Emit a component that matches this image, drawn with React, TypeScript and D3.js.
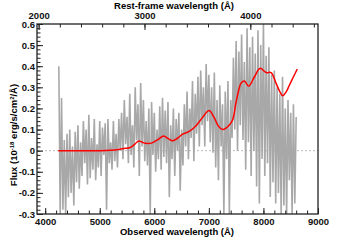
import React, { useEffect, useRef } from 'react';
import * as d3 from 'd3';

// observed-frame spectrum, 25 Å steps from 4250 Å
const specStart = 4250;
const specStep = 25;
const specFlux = [
  0.40, -0.30, 0.25, -0.28, 0.05, -0.30, 0.08, -0.22,
  0.10, -0.20, 0.02, -0.26, 0.09, -0.15, 0.12, -0.18,
  0.04, -0.12, 0.14, -0.06, 0.10, -0.16, 0.17, -0.13,
  0.06, -0.09, 0.15, -0.14, 0.03, -0.08, 0.14, -0.12,
  0.11, -0.02, 0.13, -0.28, 0.15, -0.06, 0.04, -0.09,
  0.14, -0.05, 0.08, -0.08, 0.15, 0.00, 0.18, -0.04,
  0.24, 0.03, 0.16, -0.06, 0.27, -0.02, 0.12, -0.08,
  0.30, 0.05, 0.22, -0.12, 0.32, 0.02, 0.24, -0.05,
  0.14, -0.07, 0.20, -0.30, 0.23, -0.02, 0.18, -0.10,
  0.10, -0.04, 0.21, -0.09, 0.25, -0.03, 0.19, -0.06,
  0.23, -0.22, 0.12, -0.04, 0.20, -0.12, 0.15, 0.00,
  0.18, -0.19, 0.10, -0.07, 0.22, 0.02, 0.28, -0.04,
  0.20, 0.06, 0.33, -0.05, 0.27, 0.08, 0.35, 0.02,
  0.38, 0.12, 0.30, 0.02, 0.41, 0.14, 0.36, 0.04,
  0.30, -0.01, 0.37, -0.08, 0.24, -0.14, 0.31, 0.02,
  0.22, -0.30, 0.28, -0.04, 0.33, -0.30, 0.24, 0.06,
  0.44, 0.10, 0.52, 0.00, 0.47, 0.12, 0.55, 0.05,
  0.42, -0.09, 0.58, 0.04, 0.49, -0.12, 0.54, 0.00,
  0.46, -0.17, 0.57, -0.25, 0.50, -0.04, 0.60, -0.12,
  0.45, -0.06, 0.49, -0.22, 0.36, -0.15, 0.38, -0.25,
  0.30, -0.20, 0.27, -0.30, 0.35, -0.26, 0.20, -0.30,
  0.24, -0.14, 0.18, -0.30, 0.22, -0.25, 0.16,
];

// smooth model (red)
const modelWave = [4240, 4600, 5000, 5200, 5350, 5470, 5560, 5640, 5710, 5780, 5840, 5960, 6080, 6170, 6250, 6335, 6430, 6520, 6630, 6760, 6890, 7005, 7090, 7180, 7250, 7320, 7370, 7435, 7495, 7550, 7590, 7650, 7730, 7835, 7940, 8050, 8140, 8230, 8300, 8355, 8420, 8475, 8550, 8620];
const modelFlux = [0, 0, 0, 0.002, 0.006, 0.011, 0.015, 0.03, 0.046, 0.04, 0.035, 0.037, 0.055, 0.07, 0.058, 0.047, 0.06, 0.078, 0.09, 0.117, 0.16, 0.19, 0.16, 0.114, 0.10, 0.108, 0.12, 0.145, 0.225, 0.29, 0.32, 0.33, 0.306, 0.35, 0.39, 0.37, 0.37, 0.32, 0.28, 0.26, 0.28, 0.31, 0.35, 0.386];

const obsTicks = [4000, 5000, 6000, 7000, 8000, 9000];
const restTicks = [2000, 3000, 4000];
const fluxTicks = [-0.3, -0.2, -0.1, 0, 0.1, 0.2, 0.3, 0.4, 0.5, 0.6];
const onePlusZ = 1.94;

const App: React.FC = () => {
  const ref = useRef<SVGSVGElement | null>(null);

  useEffect(() => {
    if (!ref.current) return;
    const width = 355;
    const height = 240;
    const left = 37, right = 318, top = 24, bottom = 214;
    const font = "'Liberation Sans', Arial, sans-serif";

    const svg = d3.select(ref.current);
    svg.selectAll("*").remove();
    svg.attr("width", width).attr("height", height);

    const x = d3.scaleLinear().domain([3850, 9000]).range([left, right]);
    const xRest = d3.scaleLinear().domain([3850 / onePlusZ, 9000 / onePlusZ]).range([left, right]);
    const y = d3.scaleLinear().domain([-0.3, 0.6]).range([bottom, top]);

    // zero line
    svg.append("line")
      .attr("x1", left).attr("x2", right)
      .attr("y1", y(0)).attr("y2", y(0))
      .attr("stroke", "#bbb").attr("stroke-width", 1)
      .attr("stroke-dasharray", "2,2");

    const spec = specFlux.map((f, i) => [specStart + i * specStep, f] as [number, number]);
    svg.append("path")
      .attr("d", d3.line<[number, number]>().x(d => x(d[0])).y(d => y(d[1]))(spec) || "")
      .attr("fill", "none")
      .attr("stroke", "#a8a8a8")
      .attr("stroke-width", 1.6)
      .attr("stroke-linejoin", "miter")
      .attr("stroke-miterlimit", 1);

    const model = modelWave.map((w, i) => [w, modelFlux[i]] as [number, number]);
    svg.append("path")
      .attr("d", d3.line<[number, number]>().x(d => x(d[0])).y(d => y(d[1])).curve(d3.curveCatmullRom)(model) || "")
      .attr("fill", "none")
      .attr("stroke", "#ff0000")
      .attr("stroke-width", 1.5);

    const styleAxis = (g: d3.Selection<SVGGElement, unknown, null, undefined>) => {
      g.select(".domain").remove();
      g.selectAll("line").attr("stroke", "#222").attr("stroke-width", 1);
      g.selectAll("text")
        .attr("fill", "#111")
        .attr("font-family", font)
        .attr("font-weight", "bold")
        .attr("font-size", 9.5);
    };

    // bottom
    svg.append("g").attr("transform", `translate(0,${bottom})`)
      .call(d3.axisBottom(x).tickValues(obsTicks).tickSize(-6).tickPadding(4).tickFormat(d3.format("d")))
      .call(styleAxis);
    svg.append("g").attr("transform", `translate(0,${bottom})`)
      .call(d3.axisBottom(x).tickValues(d3.range(4000, 9000, 200)).tickSize(-3.5).tickFormat(() => ""))
      .call(styleAxis);

    // top
    svg.append("g").attr("transform", `translate(0,${top})`)
      .call(d3.axisTop(xRest).tickValues(restTicks).tickSize(-6).tickPadding(5).tickFormat(d3.format("d")))
      .call(styleAxis);
    svg.append("g").attr("transform", `translate(0,${top})`)
      .call(d3.axisTop(xRest).tickValues(d3.range(2000, 4700, 200)).tickSize(-3.5).tickFormat(() => ""))
      .call(styleAxis);

    // left
    svg.append("g").attr("transform", `translate(${left},0)`)
      .call(d3.axisLeft(y).tickValues(fluxTicks).tickSize(-6).tickPadding(2)
        .tickFormat(d => (+d === 0 ? "0" : (+d).toFixed(1))))
      .call(styleAxis);
    svg.append("g").attr("transform", `translate(${left},0)`)
      .call(d3.axisLeft(y).tickValues(d3.range(-0.3, 0.6001, 0.02)).tickSize(-3.5).tickFormat(() => ""))
      .call(styleAxis);

    // frame
    svg.append("rect")
      .attr("x", left).attr("y", top)
      .attr("width", right - left).attr("height", bottom - top)
      .attr("fill", "none").attr("stroke", "#222").attr("stroke-width", 1.3);

    // titles
    svg.append("text")
      .attr("x", 177).attr("y", 235)
      .attr("text-anchor", "middle")
      .attr("font-family", font).attr("font-weight", "bold").attr("font-size", 9.5)
      .text("Observed wavelength (Å)");
    svg.append("text")
      .attr("x", 174).attr("y", 9)
      .attr("text-anchor", "middle")
      .attr("font-family", font).attr("font-weight", "bold").attr("font-size", 9.5)
      .text("Rest-frame wavelength (Å)");

    const yl = svg.append("text")
      .attr("transform", "translate(17,135) rotate(-90)")
      .attr("text-anchor", "middle")
      .attr("font-family", font).attr("font-weight", "bold").attr("font-size", 9.5);
    yl.append("tspan").text("Flux (10");
    yl.append("tspan").attr("font-size", 6).attr("dy", -3.5).text("-18");
    yl.append("tspan").attr("dy", 3.5).text(" erg/s/cm");
    yl.append("tspan").attr("font-size", 6).attr("dy", -3.5).text("2");
    yl.append("tspan").attr("dy", 3.5).text("/Å)");
  }, []);

  return <svg ref={ref} style={{ position: "absolute", left: 0, top: 0 }}></svg>;
};

export default App;
